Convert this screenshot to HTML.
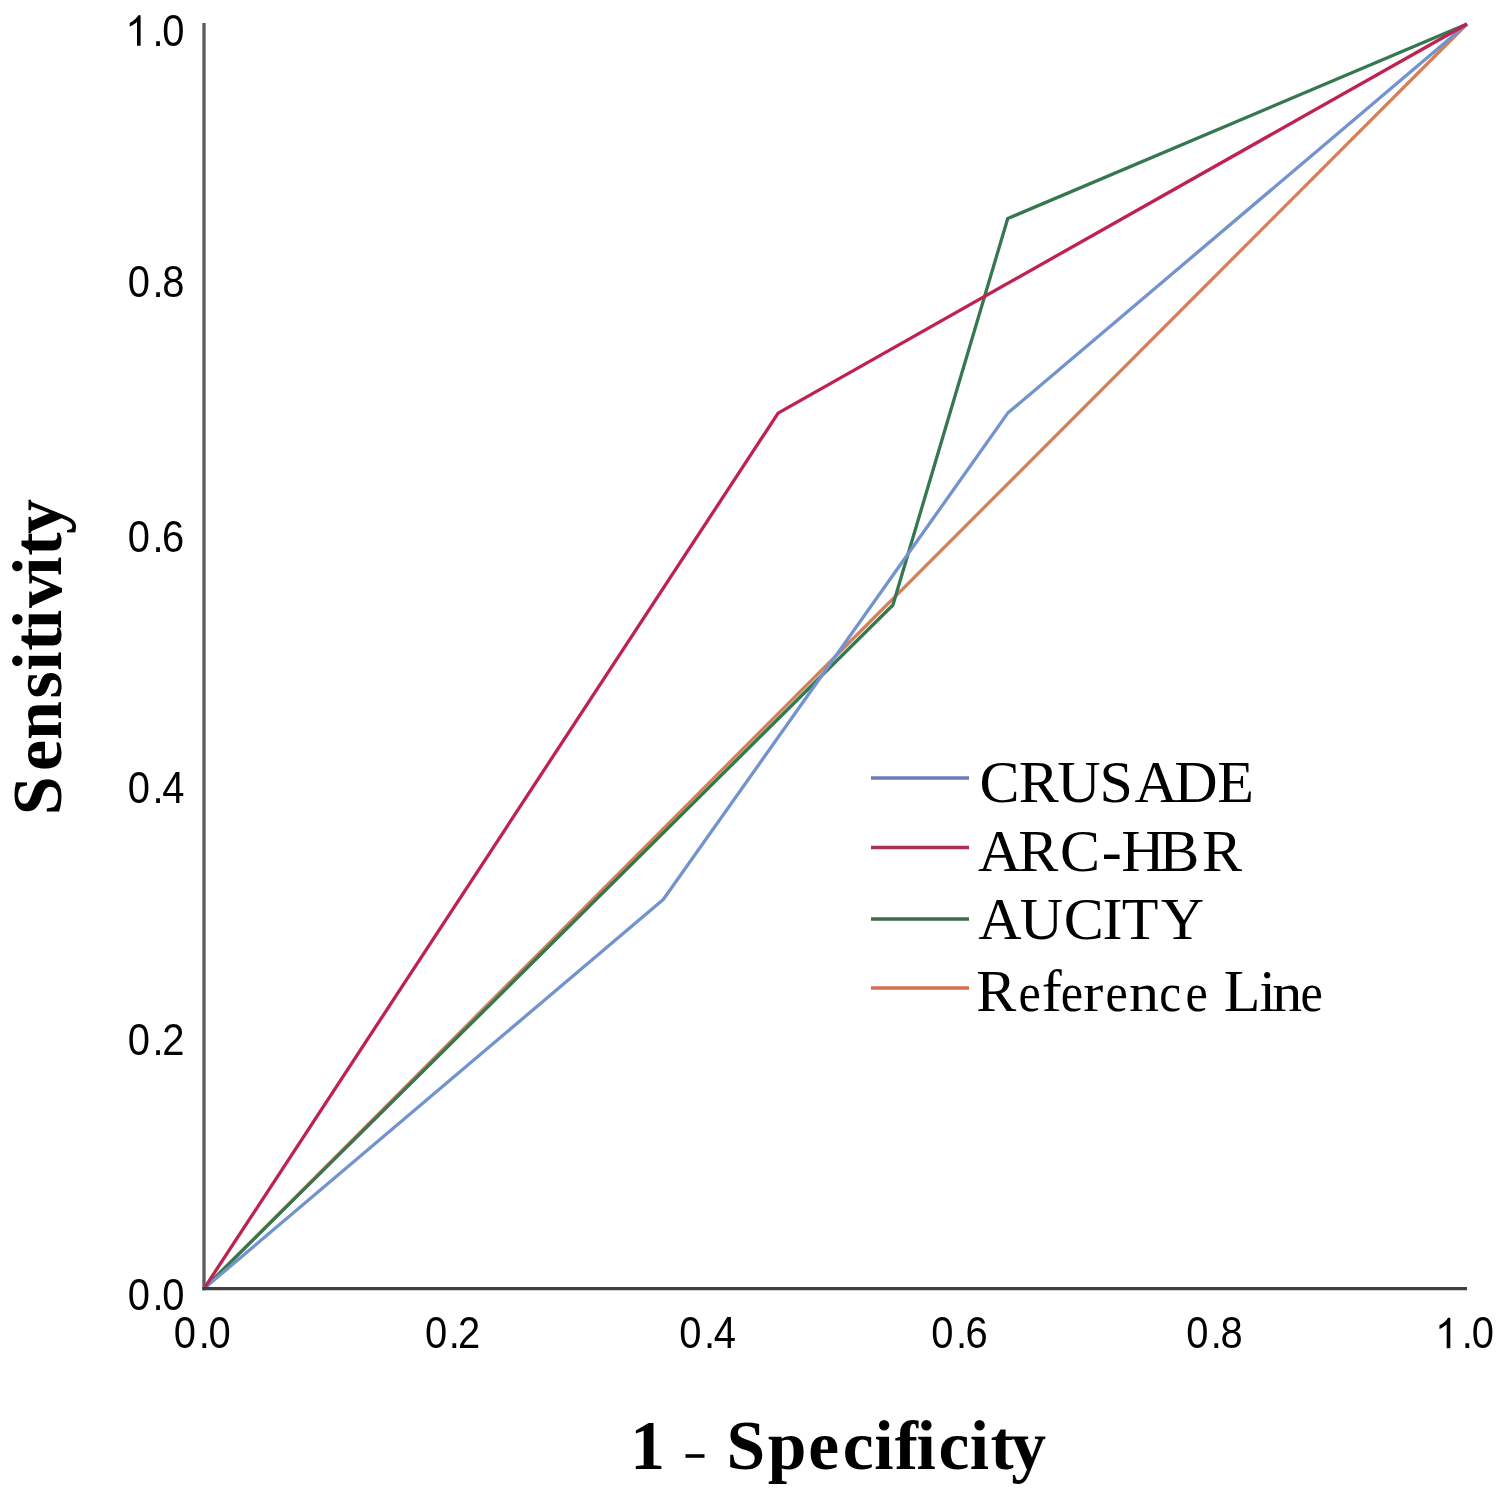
<!DOCTYPE html>
<html><head><meta charset="utf-8"><style>
html,body{margin:0;padding:0;background:#fff;width:1500px;height:1500px;overflow:hidden}
svg{position:absolute;left:0;top:0;display:block}
text{font-variant-ligatures:none;font-feature-settings:"liga" 0,"kern" 0}
.t{font-family:"Liberation Sans",sans-serif;font-size:42.5px;fill:#000}
.lg{font-family:"Liberation Serif",serif;font-size:60px;fill:#000}
.ti{font-family:"Liberation Serif",serif;font-size:69.5px;font-weight:bold;fill:#000}
.ti2{font-family:"Liberation Serif",serif;font-size:70px;font-weight:bold;fill:#000}
</style></head><body>
<svg width="1500" height="1500" viewBox="0 0 1500 1500">
<defs><filter id="bl" x="-5%" y="-5%" width="110%" height="110%"><feGaussianBlur stdDeviation="0.55"/></filter><filter id="soft" x="0" y="0" width="1500" height="1500" filterUnits="userSpaceOnUse"><feGaussianBlur stdDeviation="0.45"/></filter></defs>
<g filter="url(#soft)">
<rect x="0" y="0" width="1500" height="1500" fill="#fff"/>
<g fill="none" stroke-width="3.3" stroke-linejoin="round" stroke-linecap="butt" filter="url(#bl)">
<polyline points="204.00,1288.60 1467.00,24.00" stroke="#d48058"/>
<polyline points="204.00,1288.60 892.91,605.00 1007.73,218.55 1467.00,24.00" stroke="#35774f"/>
<polyline points="204.00,1288.60 663.27,899.49 1007.73,413.11 1467.00,24.00" stroke="#7393cf"/>
<polyline points="204.00,1288.60 778.09,413.11 1467.00,24.00" stroke="#c0224f"/>
</g>
<line x1="204.0" y1="23.0" x2="204.0" y2="1290.3" stroke="#5e5e5e" stroke-width="3.4"/>
<line x1="202.3" y1="1288.6" x2="1467.0" y2="1288.6" stroke="#404040" stroke-width="3.4"/>
<g class="t" fill="#000">
<path d="M 90 0 L -90 0 L -90 1147 Q -155 1085 -260.5 1023 Q -366 961 -450 930 L -450 1104 Q -299 1175 -186 1276 Q -73 1377 -26 1472 L 90 1472 Z" transform="translate(138.80,45.80) scale(0.02013,-0.02075)"/>
<text transform="translate(158.00,45.80) scale(0.940,1.065)" x="-5.90" y="0">.</text>
<text transform="translate(173.30,45.80) scale(0.940,1.065)" x="-11.82" y="0">0</text>
<text transform="translate(138.80,297.20) scale(0.940,1.065)" x="-11.82" y="0">0</text>
<text transform="translate(158.00,297.20) scale(0.940,1.065)" x="-5.90" y="0">.</text>
<text transform="translate(173.30,297.20) scale(0.940,1.065)" x="-11.82" y="0">8</text>
<text transform="translate(138.80,552.10) scale(0.940,1.065)" x="-11.82" y="0">0</text>
<text transform="translate(158.00,552.10) scale(0.940,1.065)" x="-5.90" y="0">.</text>
<text transform="translate(173.30,552.10) scale(0.940,1.065)" x="-11.96" y="0">6</text>
<text transform="translate(138.80,803.30) scale(0.940,1.065)" x="-11.82" y="0">0</text>
<text transform="translate(158.00,803.30) scale(0.940,1.065)" x="-5.90" y="0">.</text>
<text transform="translate(173.30,803.30) scale(0.940,1.065)" x="-11.68" y="0">4</text>
<text transform="translate(138.80,1054.70) scale(0.940,1.065)" x="-11.82" y="0">0</text>
<text transform="translate(158.00,1054.70) scale(0.940,1.065)" x="-5.90" y="0">.</text>
<text transform="translate(173.30,1054.70) scale(0.940,1.065)" x="-11.82" y="0">2</text>
<text transform="translate(138.80,1309.60) scale(0.940,1.065)" x="-11.82" y="0">0</text>
<text transform="translate(158.00,1309.60) scale(0.940,1.065)" x="-5.90" y="0">.</text>
<text transform="translate(173.30,1309.60) scale(0.940,1.065)" x="-11.82" y="0">0</text>
<text transform="translate(184.95,1348.20) scale(0.940,1.065)" x="-11.82" y="0">0</text>
<text transform="translate(204.20,1348.20) scale(0.940,1.065)" x="-5.90" y="0">.</text>
<text transform="translate(219.50,1348.20) scale(0.940,1.065)" x="-11.82" y="0">0</text>
<text transform="translate(436.20,1348.20) scale(0.940,1.065)" x="-11.82" y="0">0</text>
<text transform="translate(454.40,1348.20) scale(0.940,1.065)" x="-5.90" y="0">.</text>
<text transform="translate(469.00,1348.20) scale(0.940,1.065)" x="-11.82" y="0">2</text>
<text transform="translate(690.25,1348.20) scale(0.940,1.065)" x="-11.82" y="0">0</text>
<text transform="translate(709.50,1348.20) scale(0.940,1.065)" x="-5.90" y="0">.</text>
<text transform="translate(724.80,1348.20) scale(0.940,1.065)" x="-11.68" y="0">4</text>
<text transform="translate(942.25,1348.20) scale(0.940,1.065)" x="-11.82" y="0">0</text>
<text transform="translate(961.50,1348.20) scale(0.940,1.065)" x="-5.90" y="0">.</text>
<text transform="translate(976.80,1348.20) scale(0.940,1.065)" x="-11.96" y="0">6</text>
<text transform="translate(1197.40,1348.20) scale(0.940,1.065)" x="-11.82" y="0">0</text>
<text transform="translate(1216.20,1348.20) scale(0.940,1.065)" x="-5.90" y="0">.</text>
<text transform="translate(1231.50,1348.20) scale(0.940,1.065)" x="-11.82" y="0">8</text>
<path d="M 90 0 L -90 0 L -90 1147 Q -155 1085 -260.5 1023 Q -366 961 -450 930 L -450 1104 Q -299 1175 -186 1276 Q -73 1377 -26 1472 L 90 1472 Z" transform="translate(1448.50,1348.20) scale(0.02013,-0.02075)"/>
<text transform="translate(1467.30,1348.20) scale(0.940,1.065)" x="-5.90" y="0">.</text>
<text transform="translate(1482.80,1348.20) scale(0.940,1.065)" x="-11.82" y="0">0</text>
</g>
<g stroke-width="3.4" filter="url(#bl)">
<line x1="871" y1="778" x2="969" y2="778" stroke="#6c7bb4"/>
<line x1="871" y1="847.5" x2="969" y2="847.5" stroke="#a8324f"/>
<line x1="871" y1="919" x2="969" y2="919" stroke="#3f6a4a"/>
<line x1="871" y1="988" x2="969" y2="988" stroke="#d87050"/>
</g>
<g class="lg">
<text x="979.54" y="802.30">C</text>
<text x="1018.77" y="802.30">R</text>
<text x="1057.24" y="802.30">U</text>
<text x="1099.49" y="802.30">S</text>
<text x="1134.61" y="802.30">A</text>
<text x="1174.27" y="802.30">D</text>
<text x="1217.17" y="802.30">E</text>
<text x="977.91" y="870.90">A</text>
<text x="1018.27" y="870.90">R</text>
<text x="1060.04" y="870.90">C</text>
<text x="1101.77" y="870.90">-</text>
<text x="1121.37" y="870.90">H</text>
<text x="1159.27" y="870.90">B</text>
<text x="1201.97" y="870.90">R</text>
<text x="978.21" y="939.00">A</text>
<text x="1019.74" y="939.00">U</text>
<text x="1063.84" y="939.00">C</text>
<text x="1102.43" y="939.00">I</text>
<text x="1121.82" y="939.00">T</text>
<text x="1160.63" y="939.00">Y</text>
<text x="976.27" y="1011.20">R</text>
<text transform="translate(1018.43,1011.20) scale(0.840,0.910)">e</text>
<text x="1041.65" y="1011.20">f</text>
<text transform="translate(1060.63,1011.20) scale(0.840,0.910)">e</text>
<text transform="translate(1083.30,1011.20) scale(1.000,0.910)">r</text>
<text transform="translate(1105.53,1011.20) scale(0.840,0.910)">e</text>
<text transform="translate(1129.12,1011.20) scale(1.000,0.910)">n</text>
<text transform="translate(1159.13,1011.20) scale(0.820,0.910)">c</text>
<text transform="translate(1185.53,1011.20) scale(0.840,0.910)">e</text>
<text x="1223.87" y="1011.20">L</text>
<text x="1259.14" y="1011.20">i</text>
<text transform="translate(1272.22,1011.20) scale(1.000,0.910)">n</text>
<text transform="translate(1300.43,1011.20) scale(0.840,0.910)">e</text>
</g>
<text class="ti" x="630.13 664.88 682.45 705.60 726.50 767.82 808.32 842.82 874.17 894.79 916.57 938.52 969.77 990.48 1011.22" y="1469.0">1&#160;&#160;&#160;Specificity</text>
<rect x="685.5" y="1454.2" width="19" height="3.6" fill="#000"/>
<text class="ti2" transform="translate(61.0,820.00) rotate(-90)" x="4.67 49.01 79.92 121.48 149.36 169.17 190.86 212.10 244.06 264.17 286.12" y="0">Sensitivity</text>
</g>
</svg>
</body></html>
